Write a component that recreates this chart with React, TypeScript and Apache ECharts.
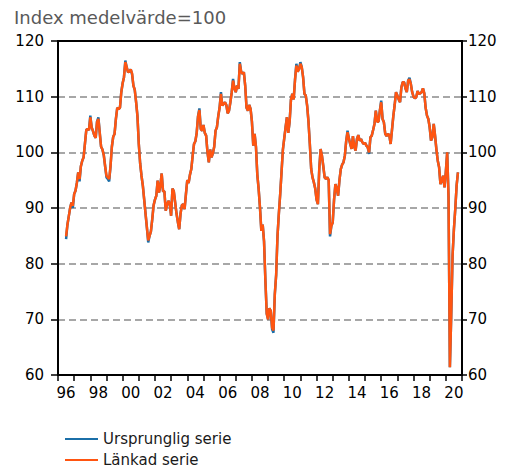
import React, { useEffect, useRef } from "react";
import * as echarts from "echarts";

// Year tick labels (one category per year, label every other year)
const yearLabels = ["96","97","98","99","00","01","02","03","04","05","06","07","08","09","10","11","12","13","14","15","16","17","18","19","20"];

// First observation: July 1996 (month index 6 counted from Jan 1996)
const startMonth = 6;

// Länkad serie (monthly)
const lankad: number[] = [
  84.9, 87.0, 88.5, 90.0, 91.0, 90.4,
  92.5, 93.1, 94.5, 96.4, 95.2, 97.5, 98.5, 99.1, 101.5, 104.0, 104.2, 104.0,
  106.3, 104.5, 103.8, 103.0, 102.6, 105.5, 106.0, 103.5, 101.0, 100.5, 99.5, 97.5,
  95.8, 95.5, 95.2, 97.5, 101.0, 102.8, 103.3, 106.0, 108.0, 107.8, 108.0, 110.8,
  112.4, 113.5, 116.2, 115.3, 114.4, 114.5, 114.9, 114.2, 112.0, 111.2, 109.0, 106.5,
  101.5, 98.0, 95.8, 94.0, 91.5, 89.0, 86.5, 84.2, 85.0, 85.8, 88.0, 90.5,
  91.5, 92.2, 94.9, 92.8, 94.0, 96.2, 93.0, 93.0, 89.5, 90.5, 91.3, 90.8,
  88.6, 93.5, 93.0, 91.0, 89.0, 87.5, 86.2, 89.0, 90.5, 90.7, 89.8, 92.5,
  95.0, 94.5, 96.0, 97.0, 99.4, 101.5, 102.0, 103.5, 106.5, 107.6, 104.2, 103.9,
  104.9, 103.5, 103.0, 100.0, 98.2, 100.5, 99.1, 99.8, 101.0, 103.9, 104.5, 106.5,
  108.0, 110.5, 108.4, 108.7, 109.0, 108.5, 107.0, 107.5, 109.0, 110.8, 112.9, 111.5,
  110.8, 112.0, 111.4, 115.9, 114.5, 114.1, 114.4, 112.0, 108.0, 107.5, 108.5, 107.8,
  105.5, 101.2, 103.3, 101.0, 96.0, 93.4, 90.0, 85.9, 87.0, 84.0, 77.0, 71.0,
  70.0, 72.0, 71.5, 68.5, 68.0, 74.5, 78.0, 85.0, 89.0, 92.5, 96.5, 100.5,
  102.5, 104.5, 106.3, 103.5, 105.5, 109.5, 110.5, 109.5, 113.0, 115.6, 114.5, 115.0,
  115.9, 115.3, 113.5, 110.5, 110.2, 108.4, 105.5, 101.5, 97.0, 95.5, 94.6, 93.5,
  91.5, 90.7, 97.0, 100.6, 99.4, 97.5, 95.5, 95.2, 95.5, 95.0, 85.3, 86.8,
  87.4, 91.5, 94.3, 93.5, 92.2, 95.0, 97.0, 97.8, 98.2, 99.4, 102.0, 103.6,
  102.5, 101.5, 100.6, 102.9, 101.0, 100.3, 102.4, 103.1, 102.1, 102.4, 101.8, 101.5,
  101.7, 101.2, 100.9, 100.0, 102.7, 103.0, 104.0, 105.1, 107.5, 105.5, 105.5, 107.5,
  109.0, 106.0, 105.4, 103.3, 102.9, 103.3, 103.1, 101.5, 104.0, 106.5, 108.5, 110.8,
  110.2, 109.5, 109.0, 111.7, 112.6, 112.6, 111.5, 110.8, 112.9, 113.1, 112.3, 110.8,
  110.0, 109.7, 109.9, 111.0, 110.5, 110.6, 110.8, 111.5, 110.6, 108.0, 106.6, 106.0,
  104.5, 102.1, 102.7, 105.1, 103.0, 100.5, 98.5, 97.3, 94.3, 94.9, 95.8, 93.7,
  96.5, 100.0, 92.0, 61.4, 70.7, 81.5, 86.2, 89.8, 94.0, 96.4
];

// Ursprunglig serie (monthly)
const ursprunglig: number[] = [
  84.4, 87.0, 88.5, 90.0, 91.0, 90.0,
  92.5, 93.1, 94.5, 96.4, 94.8, 97.5, 98.5, 99.1, 101.5, 104.0, 104.2, 104.0,
  106.6, 104.5, 103.8, 103.0, 102.6, 105.5, 106.3, 103.5, 101.0, 100.5, 99.5, 97.5,
  95.5, 95.2, 94.8, 97.5, 101.0, 102.8, 103.3, 106.0, 108.0, 107.8, 108.0, 110.8,
  112.4, 113.5, 116.5, 115.3, 114.4, 114.5, 114.9, 114.0, 112.0, 111.2, 109.0, 106.5,
  101.5, 98.0, 95.8, 94.0, 91.5, 89.0, 86.5, 83.8, 85.0, 85.8, 88.0, 90.5,
  91.5, 92.2, 94.9, 92.8, 94.0, 96.2, 93.0, 93.0, 89.5, 90.5, 91.3, 90.8,
  88.6, 93.5, 93.0, 91.0, 89.0, 87.5, 86.2, 89.0, 90.5, 90.7, 89.8, 92.5,
  95.0, 94.5, 96.0, 97.0, 99.4, 101.5, 102.0, 103.5, 106.5, 107.9, 104.2, 103.9,
  104.9, 103.5, 103.0, 100.0, 98.2, 100.5, 99.1, 99.8, 101.0, 103.9, 104.5, 106.5,
  108.0, 110.8, 108.4, 108.7, 109.0, 108.5, 107.0, 107.5, 109.0, 110.8, 113.2, 111.5,
  110.8, 112.0, 111.4, 116.2, 114.5, 114.1, 114.4, 112.0, 108.0, 107.5, 108.5, 107.8,
  105.5, 101.2, 103.3, 101.0, 96.0, 93.4, 90.0, 85.9, 87.0, 84.0, 77.0, 71.0,
  70.0, 72.0, 71.5, 68.2, 67.6, 74.5, 78.0, 85.0, 89.0, 92.5, 96.5, 100.5,
  102.5, 104.5, 106.3, 103.5, 105.5, 109.5, 110.5, 109.5, 113.0, 115.9, 114.5, 115.0,
  116.2, 115.3, 113.5, 110.5, 110.2, 108.4, 105.5, 101.5, 97.0, 95.5, 94.6, 93.5,
  91.5, 90.7, 97.0, 100.6, 99.4, 97.5, 95.5, 95.2, 95.5, 95.0, 84.9, 86.8,
  87.4, 91.5, 94.3, 93.5, 92.2, 95.0, 97.0, 97.8, 98.2, 99.4, 102.0, 103.9,
  102.5, 101.5, 100.6, 102.9, 101.0, 100.3, 102.4, 103.1, 102.1, 102.4, 101.8, 101.5,
  101.7, 101.2, 100.9, 99.7, 102.7, 103.0, 104.0, 105.1, 107.5, 105.5, 105.5, 107.5,
  109.3, 106.0, 105.4, 103.3, 102.9, 103.3, 103.1, 101.5, 104.0, 106.5, 108.5, 110.8,
  110.2, 109.5, 109.0, 111.7, 112.6, 112.6, 111.5, 110.8, 112.9, 113.4, 112.3, 110.8,
  110.0, 109.7, 109.9, 111.0, 110.5, 110.6, 110.8, 111.5, 110.6, 108.0, 106.6, 106.0,
  104.5, 102.1, 102.7, 105.1, 103.0, 100.5, 98.5, 97.3, 94.3, 94.9, 95.8, 93.7,
  96.5, 100.0, 92.0, 61.4, 70.7, 81.5, 86.2, 89.8, 94.0, 96.4
];

const seriesNames = ["Ursprunglig serie", "Länkad serie"];
const seriesColors = ["#1b6fa8", "#ff5511"];
const titleText = "Index medelvärde=100";
const yMin = 60;
const yMax = 120;
const yStep = 10;
const monthsTotal = yearLabels.length * 12;

const FONT = "DejaVu Sans";

export default function App() {
  const ref = useRef<HTMLDivElement>(null);
  useEffect(() => {
    if (!ref.current) return;
    const chart = echarts.init(ref.current, null, { renderer: "svg" });
    const toPairs = (arr: number[]) => arr.map((v, i) => [startMonth + i, v]);
    const yAxisBase = (pos: "left" | "right", margin: number, tickLen: number, split: boolean) => ({
      type: "value",
      min: yMin,
      max: yMax,
      interval: yStep,
      position: pos,
      axisLine: { show: true, lineStyle: { color: "#000", width: 2 } },
      axisTick: { show: true, length: tickLen, lineStyle: { color: "#000", width: 1.5 } },
      axisLabel: { fontSize: 15, color: "#000", margin, fontFamily: FONT },
      splitLine: split
        ? { show: true, showMinLine: false, showMaxLine: false, lineStyle: { color: "#8a8a8a", width: 1.5, type: [7, 4] } }
        : { show: false },
    });
    chart.setOption({
      animation: false,
      textStyle: { fontFamily: FONT },
      title: {
        text: titleText,
        left: 14,
        top: 8,
        padding: 0,
        textStyle: { fontSize: 18, fontWeight: "normal", color: "#595959", fontFamily: FONT },
      },
      grid: {
        left: 58,
        right: 57,
        top: 41,
        bottom: 93,
        show: true,
        borderColor: "#000",
        borderWidth: 2,
        backgroundColor: "transparent",
      },
      legend: {
        orient: "vertical",
        left: 65,
        top: 431,
        padding: 0,
        icon: "rect",
        itemWidth: 33,
        itemHeight: 2,
        itemGap: 5,
        textStyle: { fontSize: 15, color: "#1a1a1a", fontFamily: FONT, lineHeight: 16 },
        data: seriesNames,
      },
      xAxis: [
        {
          type: "category",
          data: yearLabels,
          boundaryGap: true,
          position: "bottom",
          axisLine: { show: true, lineStyle: { color: "#000", width: 2 } },
          axisTick: { show: true, interval: 0, length: 6, lineStyle: { color: "#000", width: 1.5 } },
          axisLabel: { interval: 1, fontSize: 15, color: "#000", margin: 10, fontFamily: FONT },
          splitLine: { show: false },
        },
        { type: "value", min: 0, max: monthsTotal, show: false },
      ],
      yAxis: [yAxisBase("left", 14, 7, true), yAxisBase("right", 6, 5, false)],
      series: [
        {
          name: seriesNames[0],
          type: "line",
          xAxisIndex: 1,
          yAxisIndex: 0,
          data: toPairs(ursprunglig),
          symbol: "none",
          lineStyle: { color: seriesColors[0], width: 2.5 },
          itemStyle: { color: seriesColors[0] },
        },
        {
          name: seriesNames[1],
          type: "line",
          xAxisIndex: 1,
          yAxisIndex: 0,
          data: toPairs(lankad),
          symbol: "none",
          lineStyle: { color: seriesColors[1], width: 2.5 },
          itemStyle: { color: seriesColors[1] },
        },
      ],
    });
    return () => chart.dispose();
  }, []);
  return <div ref={ref} style={{ position: "absolute", left: 0, top: 0, width: 519, height: 468 }} />;
}
